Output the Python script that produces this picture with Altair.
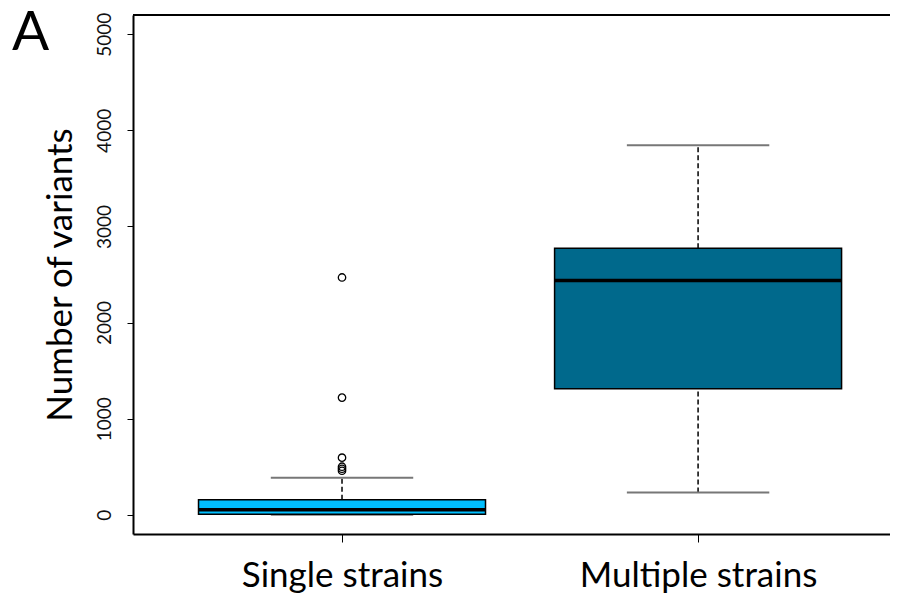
import altair as alt
import pandas as pd

# ---- data ----
categories = ["Single strains", "Multiple strains"]
positions = [1, 2]
lower_whisker = [0, 232]
q1 = [5, 1312]
median = [52, 2437]
q3 = [156, 2774]
upper_whisker = [385, 3844]
box_colors = ["#00BFFF", "#00698C"]
outlier_values = [2469, 1219, 594, 500, 479, 458]
outlier_category = ["Single strains"] * len(outlier_values)
y_ticks = [0, 1000, 2000, 3000, 4000, 5000]

# ---- styles ----
BOX_HALF = 0.403
CAP_HALF = 0.2
FONT = "Lato"

pos_of = dict(zip(categories, positions))
stats = pd.DataFrame({
    "category": categories,
    "pos": positions,
    "lower": lower_whisker,
    "q1": q1,
    "median": median,
    "q3": q3,
    "upper": upper_whisker,
})
outliers = pd.DataFrame({
    "category": outlier_category,
    "pos": [pos_of[c] for c in outlier_category],
    "value": outlier_values,
})

xscale = alt.Scale(domain=[0.413, 2.539], nice=False, zero=False)
yscale = alt.Scale(domain=[-200, 5200], nice=False, zero=False)

label_expr = "datum.value == 1 ? '%s' : '%s'" % (categories[0], categories[1])

x_axis = alt.Axis(
    values=positions, labelExpr=label_expr, title=None, grid=False,
    domainColor="black", domainWidth=2, tickColor="black", tickSize=8,
    tickWidth=1, labelFont=FONT, labelFontSize=35, labelColor="black",
    labelPadding=44, labelBaseline="alphabetic", labelLimit=500,
)
y_axis = alt.Axis(
    values=y_ticks, format="d", title="Number of variants", grid=False,
    domainColor="black", domainWidth=2, tickColor="black", tickSize=6,
    tickWidth=1, labelFont=FONT, labelFontSize=19, labelColor="#111",
    labelAngle=270, labelAlign="center", labelBaseline="bottom",
    labelPadding=13, titleFont=FONT, titleFontSize=35,
    titleFontWeight="normal", titleColor="black", titlePadding=17,
)


def X(field):
    return alt.X(field, scale=xscale, axis=x_axis)


def Y(field):
    return alt.Y(field, scale=yscale, axis=y_axis)


base = alt.Chart(stats).transform_calculate(
    lo=f"datum.pos - {BOX_HALF}",
    hi=f"datum.pos + {BOX_HALF}",
    clo=f"datum.pos - {CAP_HALF}",
    chi=f"datum.pos + {CAP_HALF}",
)

whisk_up = base.mark_rule(color="black", strokeWidth=1.5, strokeDash=[5, 3]).encode(
    x=X("pos:Q"), y=Y("q3:Q"), y2="upper:Q",
)
whisk_dn = base.mark_rule(color="black", strokeWidth=1.5, strokeDash=[5, 3]).encode(
    x=X("pos:Q"), y=Y("lower:Q"), y2="q1:Q",
)
cap_up = base.mark_rule(color="#777777", strokeWidth=2).encode(
    x=X("clo:Q"), x2="chi:Q", y=Y("upper:Q"),
)
cap_dn = base.mark_rule(color="#777777", strokeWidth=2).encode(
    x=X("clo:Q"), x2="chi:Q", y=Y("lower:Q"),
)
boxes = base.mark_rect(stroke="black", strokeWidth=1.5, opacity=1).encode(
    x=X("lo:Q"), x2="hi:Q", y=Y("q1:Q"), y2="q3:Q",
    color=alt.Color("category:N", scale=alt.Scale(domain=categories, range=box_colors), legend=None),
)
medians = base.mark_rule(color="black", strokeWidth=3.5).encode(
    x=X("lo:Q"), x2="hi:Q", y=Y("median:Q"),
)
points = alt.Chart(outliers).mark_point(
    shape="circle", filled=False, color="black", size=55, strokeWidth=1.3, opacity=1
).encode(
    x=X("pos:Q"), y=Y("value:Q"),
)
top_line = alt.Chart(alt.Data(values=[{}])).mark_rule(color="black", strokeWidth=2).encode(
    y=alt.value(0)
)
panel_label = alt.Chart(alt.Data(values=[{}])).mark_text(
    text="A", font=FONT, fontSize=55, align="left", baseline="alphabetic", color="black"
).encode(x=alt.value(-121), y=alt.value(35))

chart = alt.layer(
    whisk_up, whisk_dn, cap_up, cap_dn, boxes, medians, points, top_line, panel_label
).properties(
    width=757, height=519,
    autosize=alt.AutoSizeParams(type="none"),
    padding={"left": 125, "top": 7, "right": 0, "bottom": 61},
).configure_view(stroke=None)

chart.save("out.html", embed_options={"renderer": "svg", "actions": False})
